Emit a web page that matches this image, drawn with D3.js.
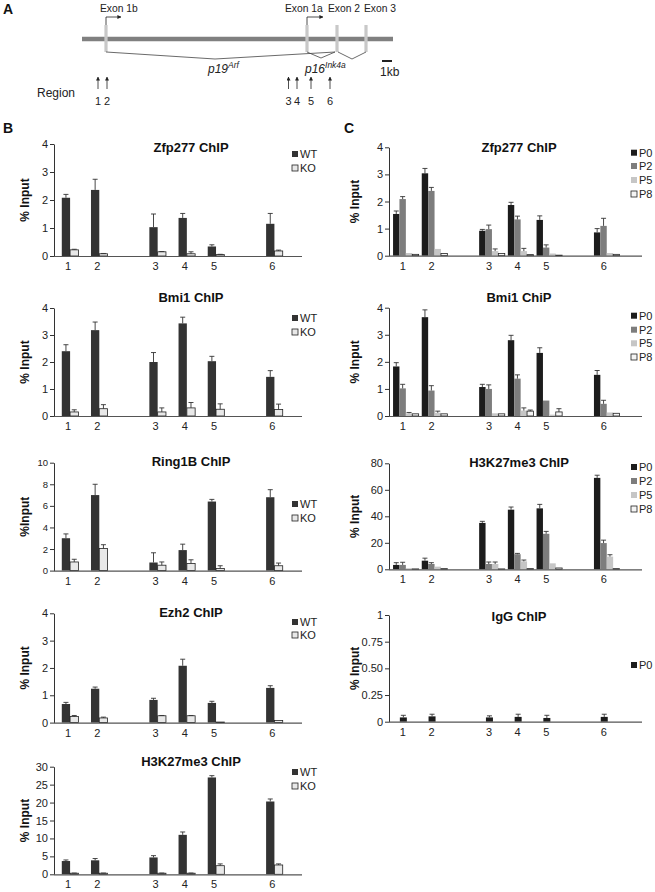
<!DOCTYPE html>
<html><head><meta charset="utf-8">
<script src="https://cdn.jsdelivr.net/npm/d3@7"></script>
<style>body{margin:0;background:#fff}svg{display:block;font-family:"Liberation Sans",Arial,sans-serif}</style>
</head><body><svg id="c" width="655" height="892"></svg>
<script>
// ---------- data ----------
const regions = ["1","2","3","4","5","6"];
const slotKeys = ["1","2","gapA","3","4","5","gapB","6"];
const seriesB = ["WT","KO"];
const seriesC = ["P0","P2","P5","P8"];

const zfpB_WT = [2.08, 2.36, 1.03, 1.36, 0.34, 1.15];
const zfpB_WT_err = [0.12, 0.38, 0.47, 0.16, 0.06, 0.37];
const zfpB_KO = [0.22, 0.08, 0.15, 0.08, 0.05, 0.18];
const zfpB_KO_err = [0.02, 0.01, 0.01, 0.07, 0.01, 0.03];

const bmiB_WT = [2.4, 3.18, 2.0, 3.43, 2.03, 1.45];
const bmiB_WT_err = [0.24, 0.3, 0.35, 0.23, 0.18, 0.23];
const bmiB_KO = [0.15, 0.27, 0.15, 0.3, 0.25, 0.24];
const bmiB_KO_err = [0.08, 0.15, 0.15, 0.2, 0.2, 0.2];

const ringB_WT = [3.0, 7.0, 0.75, 1.9, 6.4, 6.8];
const ringB_WT_err = [0.4, 1.0, 0.9, 0.55, 0.2, 0.7];
const ringB_KO = [0.8, 2.05, 0.5, 0.65, 0.2, 0.45];
const ringB_KO_err = [0.25, 0.35, 0.3, 0.35, 0.25, 0.25];

const ezhB_WT = [0.68, 1.24, 0.83, 2.08, 0.72, 1.27];
const ezhB_WT_err = [0.06, 0.06, 0.06, 0.24, 0.06, 0.08];
const ezhB_KO = [0.22, 0.17, 0.25, 0.25, 0.02, 0.08];
const ezhB_KO_err = [0.04, 0.03, 0.01, 0.01, 0, 0];

const h3B_WT = [3.7, 3.9, 4.7, 11.0, 27.0, 20.3];
const h3B_WT_err = [0.3, 0.5, 0.5, 0.8, 0.5, 0.7];
const h3B_KO = [0.3, 0.3, 0.3, 0.3, 2.4, 2.6];
const h3B_KO_err = [0.05, 0.05, 0.05, 0.05, 0.5, 0.3];

const zfpC_P0 = [1.54, 3.04, 0.92, 1.87, 1.32, 0.86];
const zfpC_P0_err = [0.11, 0.18, 0.05, 0.1, 0.15, 0.14];
const zfpC_P2 = [2.09, 2.39, 0.98, 1.34, 0.3, 1.1];
const zfpC_P2_err = [0.09, 0.13, 0.15, 0.12, 0.1, 0.28];
const zfpC_P5 = [0.1, 0.25, 0.17, 0.17, 0.08, 0.1];
const zfpC_P5_err = [0, 0, 0.08, 0.1, 0, 0];
const zfpC_P8 = [0.05, 0.08, 0.08, 0.04, 0.02, 0.05];
const zfpC_P8_err = [0, 0, 0, 0, 0, 0];

const bmiC_P0 = [1.83, 3.65, 1.07, 2.8, 2.33, 1.52];
const bmiC_P0_err = [0.14, 0.27, 0.1, 0.18, 0.19, 0.16];
const bmiC_P2 = [1.02, 0.94, 1.0, 1.38, 0.57, 0.45];
const bmiC_P2_err = [0.15, 0.18, 0.15, 0.14, 0, 0.13];
const bmiC_P5 = [0.1, 0.12, 0.1, 0.2, 0.05, 0.13];
const bmiC_P5_err = [0.03, 0.06, 0, 0.1, 0, 0];
const bmiC_P8 = [0.08, 0.08, 0.08, 0.18, 0.15, 0.1];
const bmiC_P8_err = [0, 0, 0, 0.04, 0.12, 0];

const h3C_P0 = [3.3, 6.5, 35, 45, 46, 69];
const h3C_P0_err = [1.7, 1.9, 1.2, 2, 3, 2];
const h3C_P2 = [3.3, 4, 4, 11.4, 26.8, 19.8];
const h3C_P2_err = [2, 1, 1.5, 0.6, 1.8, 2.2];
const h3C_P5 = [0.8, 2, 4, 6, 4.5, 9.6];
const h3C_P5_err = [0, 0, 1.5, 1, 0, 1.4];
const h3C_P8 = [0.3, 0.5, 0.3, 0.5, 1, 0.5];
const h3C_P8_err = [0, 0, 0, 0, 0, 0];

const igg_P0 = [0.04, 0.05, 0.04, 0.045, 0.035, 0.045];
const igg_P0_err = [0.02, 0.02, 0.015, 0.025, 0.025, 0.025];

const ticks4 = [0, 1, 2, 3, 4];
const ticksRing = [0, 2, 4, 6, 8, 10];
const ticksH3B = [0, 5, 10, 15, 20, 25, 30];
const ticksH3C = [0, 20, 40, 60, 80];
const ticksIgG = [0, 0.25, 0.5, 0.75, 1];
const ticksIgGLabels = ["0", "0.25", "0.50", "0.75", "1"];

// ---------- drawing ----------
const svg = d3.select("#c");
const colB = {WT: "#333333", KO: "#e8e8e8"};
const colC = {P0: "#1c1c1c", P2: "#7d7d7d", P5: "#c6c6c6", P8: "#f4f4f4"};
const strokeC = {P0: "none", P2: "none", P5: "none", P8: "#222"};
const strokeB = {WT: "none", KO: "#222"};

function chart(cfg) {
  const g = svg.append("g");
  const y = d3.scaleLinear().domain([0, cfg.max]).range([cfg.y0, cfg.yTop]);
  const outer = d3.scaleBand().domain(slotKeys).range([cfg.x0, cfg.slotEnd]);
  const inner = d3.scaleBand().domain(cfg.series).range([0, cfg.barW * cfg.series.length]);
  const groupW = cfg.barW * cfg.series.length;
  const gx = r => outer(r) + outer.bandwidth() / 2 - groupW / 2 + cfg.shift;

  cfg.series.forEach((s, si) => {
    const vals = cfg.values[si], errs = cfg.errs[si];
    regions.forEach((r, i) => {
      const x = gx(r) + inner(s);
      g.append("rect").attr("x", x).attr("y", y(vals[i]))
        .attr("width", inner.bandwidth()).attr("height", y(0) - y(vals[i]))
        .attr("fill", cfg.colors[s]).attr("stroke", cfg.strokes[s]).attr("stroke-width", 0.8);
      if (errs[i] > 0) {
        const cx = x + inner.bandwidth() / 2;
        g.append("line").attr("x1", cx).attr("x2", cx)
          .attr("y1", y(vals[i])).attr("y2", y(vals[i] + errs[i]))
          .attr("stroke", "#333").attr("stroke-width", 0.9);
        g.append("line").attr("x1", cx - 2.5).attr("x2", cx + 2.5)
          .attr("y1", y(vals[i] + errs[i])).attr("y2", y(vals[i] + errs[i]))
          .attr("stroke", "#333").attr("stroke-width", 0.9);
      }
    });
  });

  const ax = g.append("g").attr("transform", `translate(${cfg.x0},0)`)
    .call(d3.axisLeft(y).tickValues(cfg.ticks).tickSize(4).tickSizeOuter(0).tickPadding(2)
      .tickFormat((d, i) => cfg.tickLabels ? cfg.tickLabels[i] : d));
  ax.select(".domain").attr("stroke", "#333");
  ax.selectAll(".tick line").attr("stroke", "#333");
  ax.selectAll("text").attr("font-size", cfg.tickFont).attr("fill", "#222")
    .attr("font-family", "Liberation Sans, Arial, sans-serif");

  g.append("line").attr("x1", cfg.x0).attr("x2", cfg.axisEnd)
    .attr("y1", cfg.y0 + 0.5).attr("y2", cfg.y0 + 0.5).attr("stroke", "#555").attr("stroke-width", 1.2);
  regions.forEach(r => {
    g.append("text").attr("x", outer(r) + outer.bandwidth() / 2 - 0.5).attr("y", cfg.y0 + 14)
      .attr("text-anchor", "middle").attr("font-size", 11).attr("fill", "#222").text(r);
  });

  g.append("text").attr("x", cfg.titleX).attr("y", cfg.titleY).attr("text-anchor", "middle")
    .attr("font-size", 13).attr("font-weight", "bold").attr("fill", "#111").text(cfg.title);

  g.append("text").attr("transform", `translate(${cfg.ylabX},${(cfg.y0 + cfg.yTop) / 2}) rotate(-90)`)
    .attr("text-anchor", "middle").attr("font-size", 12).attr("font-weight", "bold").attr("fill", "#111")
    .text(cfg.ylabel);

  cfg.series.forEach((s, si) => {
    const ly = cfg.legendY[si];
    g.append("rect").attr("x", cfg.legendX).attr("y", ly - 3).attr("width", 6).attr("height", 6)
      .attr("fill", cfg.colors[s]).attr("stroke", cfg.strokes[s] === "none" ? "none" : "#222").attr("stroke-width", 0.8);
    g.append("text").attr("x", cfg.legendX + 8).attr("y", ly + 4).attr("font-size", 11).attr("fill", "#222").text(s);
  });
}

const Bbase = {x0: 54, slotEnd: 287.5, axisEnd: 302, series: seriesB, barW: 8.3, shift: 1.5,
  colors: colB, strokes: strokeB, ylabX: 29, titleX: 191, legendX: 292, tickFont: 11};
const Cbase = {x0: 389, slotEnd: 618.6, axisEnd: 642, series: seriesC, barW: 6.4, shift: 2.5,
  colors: colC, strokes: strokeC, ylabX: 359, titleX: 519, legendX: 631, tickFont: 11};

chart(Object.assign({}, Bbase, {y0: 256, yTop: 144, max: 4, ticks: ticks4, title: "Zfp277 ChIP", titleY: 152,
  ylabel: "% Input", legendY: [154, 168], values: [zfpB_WT, zfpB_KO], errs: [zfpB_WT_err, zfpB_KO_err]}));
chart(Object.assign({}, Bbase, {y0: 416, yTop: 308, max: 4, ticks: ticks4, title: "Bmi1 ChIP", titleY: 302,
  ylabel: "% Input", legendY: [318, 332], values: [bmiB_WT, bmiB_KO], errs: [bmiB_WT_err, bmiB_KO_err]}));
chart(Object.assign({}, Bbase, {y0: 570.6, yTop: 462.7, max: 10, ticks: ticksRing, title: "Ring1B ChIP", titleY: 466,
  ylabel: "%Input", legendY: [504, 518], tickFont: 9.5, values: [ringB_WT, ringB_KO], errs: [ringB_WT_err, ringB_KO_err]}));
chart(Object.assign({}, Bbase, {y0: 722.6, yTop: 613.3, max: 4, ticks: ticks4, title: "Ezh2 ChIP", titleY: 617,
  ylabel: "% Input", legendY: [622, 635], values: [ezhB_WT, ezhB_KO], errs: [ezhB_WT_err, ezhB_KO_err]}));
chart(Object.assign({}, Bbase, {y0: 874.3, yTop: 766.7, max: 30, ticks: ticksH3B, title: "H3K27me3 ChIP", titleY: 766,
  ylabel: "% Input", legendY: [772, 786], values: [h3B_WT, h3B_KO], errs: [h3B_WT_err, h3B_KO_err]}));

chart(Object.assign({}, Cbase, {y0: 255.7, yTop: 147.3, max: 4, ticks: ticks4, title: "Zfp277 ChIP", titleY: 152,
  ylabel: "% Input", legendY: [152.7, 166, 180, 194],
  values: [zfpC_P0, zfpC_P2, zfpC_P5, zfpC_P8], errs: [zfpC_P0_err, zfpC_P2_err, zfpC_P5_err, zfpC_P8_err]}));
chart(Object.assign({}, Cbase, {y0: 416, yTop: 307.7, max: 4, ticks: ticks4, title: "Bmi1 ChiP", titleY: 302,
  ylabel: "% Input", legendY: [315.7, 329.7, 343.3, 357],
  values: [bmiC_P0, bmiC_P2, bmiC_P5, bmiC_P8], errs: [bmiC_P0_err, bmiC_P2_err, bmiC_P5_err, bmiC_P8_err]}));
chart(Object.assign({}, Cbase, {y0: 569.3, yTop: 463.3, max: 80, ticks: ticksH3C, title: "H3K27me3 ChIP", titleY: 467,
  ylabel: "% Input", legendY: [467, 481, 495, 509],
  values: [h3C_P0, h3C_P2, h3C_P5, h3C_P8], errs: [h3C_P0_err, h3C_P2_err, h3C_P5_err, h3C_P8_err]}));
chart(Object.assign({}, Cbase, {y0: 721.7, yTop: 615, max: 1, ticks: ticksIgG, tickLabels: ticksIgGLabels,
  title: "IgG ChIP", titleY: 621, ylabel: "% Input", legendY: [665], series: ["P0"], barW: 7, shift: 0,
  values: [igg_P0], errs: [igg_P0_err]}));

// ---------- panel labels ----------
[["A", 3, 14], ["B", 3, 133], ["C", 344, 133]].forEach(([t, x, yy]) => {
  svg.append("text").attr("x", x).attr("y", yy).attr("font-size", 14).attr("font-weight", "bold").attr("fill", "#111").text(t);
});

// ---------- panel A schematic ----------
const A = svg.append("g");
const defs = svg.append("defs");
defs.append("marker").attr("id", "ah").attr("viewBox", "0 0 10 10").attr("refX", 9).attr("refY", 5)
  .attr("markerWidth", 5).attr("markerHeight", 5).attr("orient", "auto-start-reverse")
  .append("path").attr("d", "M0,0 L10,5 L0,10 z").attr("fill", "#222");

A.append("line").attr("x1", 82).attr("x2", 393).attr("y1", 39).attr("y2", 39)
  .attr("stroke", "#808080").attr("stroke-width", 4.3);
[106, 307, 337, 366].forEach(x => {
  A.append("rect").attr("x", x - 1.6).attr("y", 25).attr("width", 3.2).attr("height", 27).attr("fill", "#c8c8c8");
});
[[106, 121], [307, 323]].forEach(([x, x2]) => {
  A.append("path").attr("d", `M${x},25 L${x},17 L${x2},17`).attr("fill", "none")
    .attr("stroke", "#222").attr("stroke-width", 0.8).attr("marker-end", "url(#ah)");
});
[[106, 52, 215, 59, 335, 52], [307, 52, 321, 58, 335, 52], [338, 52, 352, 59, 366, 52]].forEach(p => {
  A.append("path").attr("d", `M${p[0]},${p[1]} L${p[2]},${p[3]} L${p[4]},${p[5]}`)
    .attr("fill", "none").attr("stroke", "#444").attr("stroke-width", 0.8);
});
[["Exon 1b", 100], ["Exon 1a", 285], ["Exon 2", 328], ["Exon 3", 364]].forEach(([t, x]) => {
  A.append("text").attr("x", x).attr("y", 12).attr("font-size", 10.3).attr("fill", "#222").text(t);
});
const p19 = A.append("text").attr("x", 208).attr("y", 73).attr("font-size", 12).attr("font-style", "italic").attr("fill", "#222");
p19.append("tspan").text("p19");
p19.append("tspan").attr("dy", -5).attr("font-size", 8.5).text("Arf");
const p16 = A.append("text").attr("x", 305).attr("y", 73).attr("font-size", 12).attr("font-style", "italic").attr("fill", "#222");
p16.append("tspan").text("p16");
p16.append("tspan").attr("dy", -5).attr("font-size", 8.5).text("Ink4a");
A.append("rect").attr("x", 382).attr("y", 60).attr("width", 10).attr("height", 2).attr("fill", "#222");
A.append("text").attr("x", 380).attr("y", 76).attr("font-size", 12).attr("fill", "#222").text("1kb");
A.append("text").attr("x", 37).attr("y", 97).attr("font-size", 12).attr("fill", "#222").text("Region");
[[98, "1"], [107, "2"], [288.5, "3"], [297, "4"], [311, "5"], [330, "6"]].forEach(([x, t]) => {
  A.append("line").attr("x1", x).attr("x2", x).attr("y1", 89).attr("y2", 77)
    .attr("stroke", "#222").attr("stroke-width", 0.8).attr("marker-end", "url(#ah)");
  A.append("text").attr("x", x).attr("y", 105).attr("text-anchor", "middle").attr("font-size", 11).attr("fill", "#222").text(t);
});
</script></body></html>
